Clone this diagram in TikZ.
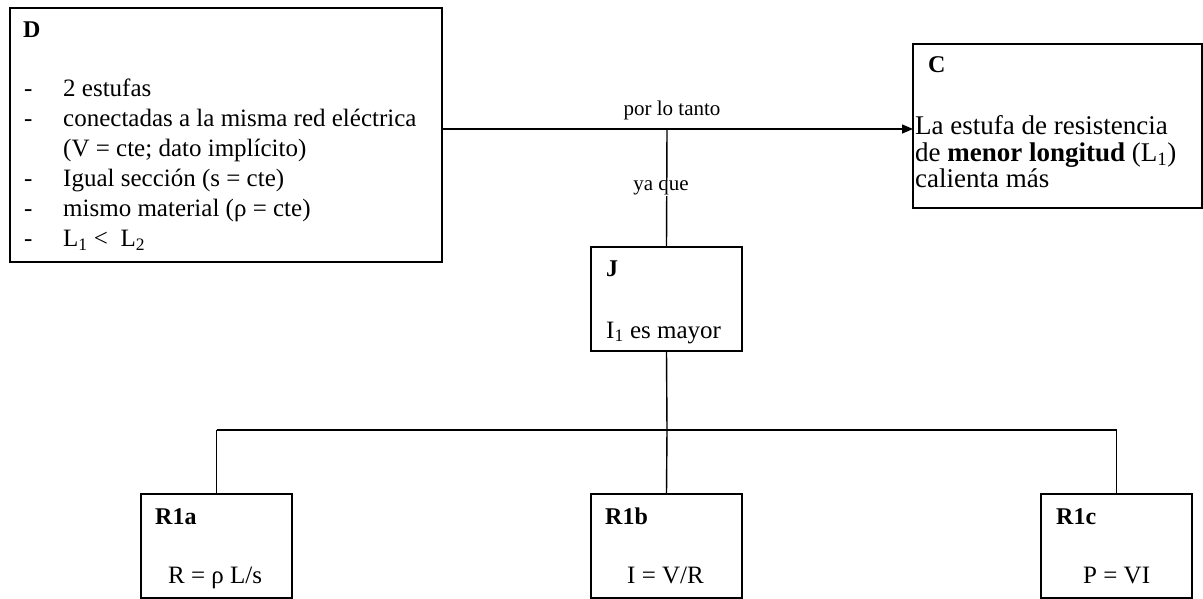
\documentclass[tikz,border=0pt]{standalone}
\usepackage{fontspec}
\setmainfont{Liberation Serif}
\usetikzlibrary{arrows.meta}
\tikzset{
  box/.style={draw, line width=1.4pt, inner sep=0pt, outer sep=0pt, anchor=north west},
  txt/.style={anchor=base west, inner sep=0pt, font=\fontsize{25}{30}\selectfont},
  ctxt/.style={anchor=base west, inner sep=0pt, font=\fontsize{27}{30}\selectfont},
  ttl/.style={anchor=base west, inner sep=0pt, font=\fontsize{24}{30}\selectfont\bfseries},
  lbl/.style={inner sep=1pt, font=\fontsize{21}{24}\selectfont},
  conn/.style={line width=1.4pt},
  arr/.style={line width=1.4pt, -{Triangle[length=11pt,width=9pt]}}
}
\begin{document}
\begin{tikzpicture}[x=1pt,y=-1pt]
\useasboundingbox[fill=white] (0,0) rectangle (1203,599);
% boxes
\node[box, minimum width=432pt, minimum height=254pt] (D) at (10,8) {};
\node[box, minimum width=289pt, minimum height=164pt] (C) at (913,44) {};
\node[box, minimum width=151pt, minimum height=104pt] (J) at (591,247) {};
\node[box, minimum width=151pt, minimum height=104pt] (R1a) at (141,494) {};
\node[box, minimum width=151pt, minimum height=104pt] (R1b) at (591,494) {};
\node[box, minimum width=151pt, minimum height=104pt] (R1c) at (1041,494) {};
% D text
\node[ttl] (Dt) at (23,38) {D};
\foreach \yy/\nm in {97/a,127/b,187/d,217/e,247/f}{
  \node[txt] (Ddash\nm) at (24,\yy) {-};
}
\node[txt] (D1) at (63,97) {2 estufas};
\node[txt] (D2) at (63,127) {conectadas a la misma red eléctrica};
\node[txt] (D3) at (63,157) {(V = cte; dato implícito)};
\node[txt] (D4) at (63,187) {Igual sección (s = cte)};
\node[txt] (D5) at (63,217) {mismo material (ρ = cte)};
\node[txt] (D6) at (63,247) {L\textsubscript{1} <~ L\textsubscript{2}};
% C text
\node[ttl] (Ct) at (928,73) {C};
\node[ctxt] (C1) at (915,135) {La estufa de resistencia};
\node[ctxt] (C2) at (915,162) {de \textbf{menor longitud} (L\textsubscript{1})};
\node[ctxt] (C3) at (915,188) {calienta más};
% J text
\node[ttl] (Jt) at (606,276) {J};
\node[txt] (J1) at (606,338) {I\textsubscript{1} es mayor};
% R texts
\node[ttl] (Rat) at (155,524) {R1a};
\node[txt] (Ra1) at (168,583) {R = ρ L/s};
\node[ttl] (Rbt) at (605,524) {R1b};
\node[txt] (Rb1) at (627,583) {I = V/R};
\node[ttl] (Rct) at (1056,524) {R1c};
\node[txt] (Rc1) at (1083,583) {P = VI};
% connectors
\coordinate (pl) at (667,129);
\coordinate (hb) at (667,430);
\draw[arr] (D.east |- pl) -- (C.west |- pl);
\draw[conn] (pl) -- (J.north);
\node[lbl, anchor=base] (lt) at (672,116) {por lo tanto};
\node[lbl, anchor=base, fill=white, inner sep=0pt] (lq) at (661,191) {ya que};
\draw[conn] (J.south) -- (hb);
\draw[conn] (R1a.north |- hb) -- (R1c.north |- hb);
\draw[conn] (R1a.north |- hb) -- (R1a.north);
\draw[conn] (hb) -- (R1b.north);
\draw[conn] (R1c.north |- hb) -- (R1c.north);
\end{tikzpicture}
\end{document}
